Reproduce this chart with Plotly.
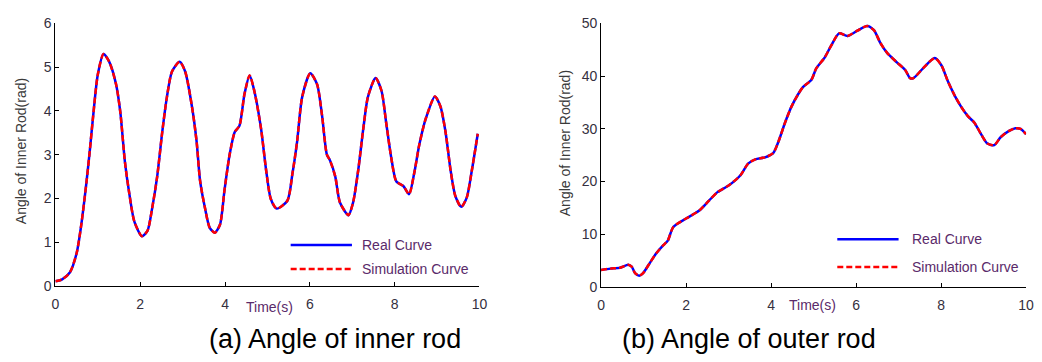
import plotly.graph_objects as go

# ---------------- data ----------------
t_inner = [0, 0.15, 0.34, 0.5, 0.61, 0.73, 0.81, 0.89, 1.0, 1.135, 1.27, 1.43, 1.53, 1.64,
           1.74, 1.86, 2.04, 2.17, 2.28, 2.40, 2.52, 2.63, 2.75, 2.93, 3.06, 3.22, 3.33,
           3.41, 3.53, 3.64, 3.76, 3.88, 3.99, 4.11, 4.23, 4.34, 4.46, 4.58, 4.69, 4.85,
           4.97, 5.08, 5.22, 5.47, 5.59, 5.70, 5.82, 6.01, 6.17, 6.29, 6.40, 6.48, 6.60,
           6.71, 6.91, 7.02, 7.14, 7.26, 7.37, 7.55, 7.69, 7.80, 7.92, 8.04, 8.21, 8.34,
           8.46, 8.58, 8.73, 8.95, 9.08, 9.20, 9.32, 9.43, 9.57, 9.70, 9.82, 9.96]
real_inner = [0.11, 0.15, 0.31, 0.75, 1.40, 2.35, 3.08, 3.88, 4.83, 5.30, 5.12, 4.61, 3.98, 2.83,
              2.13, 1.48, 1.14, 1.26, 1.77, 2.50, 3.52, 4.32, 4.90, 5.12, 4.90, 4.10, 3.30,
              2.42, 1.77, 1.33, 1.22, 1.40, 2.21, 3.01, 3.52, 3.66, 4.39, 4.81, 4.46, 3.59,
              2.64, 1.99, 1.77, 1.95, 2.57, 3.30, 4.32, 4.86, 4.61, 3.88, 3.01, 2.86, 2.50,
              1.91, 1.62, 1.91, 2.64, 3.59, 4.32, 4.75, 4.46, 3.73, 2.93, 2.39, 2.28, 2.10,
              2.57, 3.22, 3.81, 4.33, 4.10, 3.52, 2.64, 2.06, 1.81, 2.02, 2.64, 3.48]
sim_inner = list(real_inner)

t_outer = [0, 0.22, 0.45, 0.64, 0.72, 0.80, 0.90, 0.99, 1.15, 1.30, 1.46, 1.57, 1.70, 2.0,
           2.31, 2.54, 2.74, 3.01, 3.28, 3.46, 3.63, 3.86, 4.05, 4.17, 4.33, 4.48, 4.64,
           4.75, 4.95, 5.06, 5.26, 5.41, 5.60, 5.80, 6.03, 6.26, 6.42, 6.57, 6.73, 6.96,
           7.16, 7.27, 7.35, 7.58, 7.85, 8.01, 8.16, 8.32, 8.47, 8.63, 8.78, 8.94, 9.09,
           9.25, 9.40, 9.60, 9.75, 9.87, 10.0]
real_outer = [3.26, 3.5, 3.68, 4.22, 3.86, 2.66, 2.17, 2.66, 4.6, 6.4, 7.9, 8.8, 11.4, 13.0,
              14.5, 16.4, 18.0, 19.3, 21.2, 23.4, 24.2, 24.6, 25.4, 27.5, 31.2, 34.2, 36.6,
              37.9, 39.3, 41.4, 43.5, 45.7, 48.1, 47.6, 48.6, 49.5, 48.7, 46.3, 44.4, 42.6,
              41.1, 39.6, 39.6, 41.5, 43.4, 42.0, 39.0, 36.3, 34.2, 32.4, 31.2, 29.0, 27.2,
              26.9, 28.4, 29.6, 30.1, 30.0, 29.0]
sim_outer = list(real_outer)

x_ticks = [0, 2, 4, 6, 8, 10]
y_ticks_inner = [0, 1, 2, 3, 4, 5, 6]
y_ticks_outer = [0, 10, 20, 30, 40, 50]
legend_names = ["Real Curve", "Simulation Curve"]
y_title = "Angle of Inner Rod(rad)"
x_title = "Time(s)"
captions = ["(a) Angle of inner rod", "(b) Angle of outer rod"]

# ---------------- layout helpers ----------------
W, H = 1042, 362
FONT = "Liberation Sans, Arial, sans-serif"
TICK_COLOR = "#353040"
PURPLE = "#5a2a6a"
BLUE = "#0000ff"
RED = "#ff0000"
DASH = "6px,3px"


def px(x):
    return x / W


def py(y):
    return 1 - y / H


fig = go.Figure()

for t, real, sim, xa, ya in [(t_inner, real_inner, sim_inner, "x", "y"),
                             (t_outer, real_outer, sim_outer, "x2", "y2")]:
    fig.add_trace(go.Scatter(x=t, y=real, mode="lines", xaxis=xa, yaxis=ya,
                             line=dict(color=BLUE, width=2.5, shape="spline", smoothing=0.7),
                             name=legend_names[0], showlegend=False))
    fig.add_trace(go.Scatter(x=t, y=sim, mode="lines", xaxis=xa, yaxis=ya,
                             line=dict(color=RED, width=2.5, dash=DASH, shape="spline", smoothing=0.7),
                             name=legend_names[1], showlegend=False))

axis_common = dict(showline=True, linecolor="black", linewidth=1, ticks="inside", ticklen=4,
                   tickcolor="black", showgrid=False, zeroline=False,
                   tickfont=dict(family=FONT, size=14, color=TICK_COLOR))

fig.update_layout(
    width=W, height=H, margin=dict(l=0, r=0, t=0, b=0),
    paper_bgcolor="white", plot_bgcolor="white",
    xaxis=dict(domain=[px(52), px(481)], range=[0, 10], tickvals=x_ticks, anchor="y",
               ticklabelstandoff=5, **axis_common),
    yaxis=dict(domain=[py(291), py(16)], range=[0, 6], tickvals=y_ticks_inner, anchor="x", **axis_common),
    xaxis2=dict(domain=[px(604), px(1034)], range=[0, 10], tickvals=x_ticks, anchor="y2",
                ticklabelstandoff=5, **axis_common),
    yaxis2=dict(domain=[py(292), py(16)], range=[0, 50], tickvals=y_ticks_outer, anchor="x2", **axis_common),
)

annotations = []
shapes = []

# axis titles
for xc, yc in [(18, 150), (567, 141)]:
    annotations.append(dict(x=px(xc), y=py(yc), xref="paper", yref="paper", text=y_title,
                            textangle=-90, showarrow=False, xanchor="center", yanchor="middle",
                            font=dict(family=FONT, size=14, color="#3a3a3a")))
for xc, yc in [(269, 313), (818, 311)]:
    annotations.append(dict(x=px(xc), y=py(yc), xref="paper", yref="paper", text=x_title,
                            showarrow=False, xanchor="center", yanchor="middle",
                            font=dict(family=FONT, size=14, color=PURPLE)))

# captions
for cap, xc in zip(captions, [335, 754]):
    annotations.append(dict(x=px(xc), y=py(346), xref="paper", yref="paper", text=cap,
                            showarrow=False, xanchor="center", yanchor="middle",
                            font=dict(family=FONT, size=27, color="black")))

# legends (drawn manually)
legend_geo = [
    # (line x0, line x1, text x, y real, y sim)
    (290, 352, 360, 248, 273),
    (843, 905, 917, 242, 271),
]
for x0, x1, xt, yr, ys in legend_geo:
    shapes.append(dict(type="line", xref="paper", yref="paper", x0=px(x0), x1=px(x1),
                       y0=py(yr), y1=py(yr), line=dict(color=BLUE, width=2.5)))
    shapes.append(dict(type="line", xref="paper", yref="paper", x0=px(x0), x1=px(x1),
                       y0=py(ys), y1=py(ys), line=dict(color=RED, width=2.5, dash=DASH)))
    for name, yy in zip(legend_names, [yr, ys]):
        annotations.append(dict(x=px(xt), y=py(yy), xref="paper", yref="paper", text=name,
                                showarrow=False, xanchor="left", yanchor="middle",
                                font=dict(family=FONT, size=14, color=PURPLE)))

fig.update_layout(annotations=annotations, shapes=shapes)

fig.write_html("out.html")
